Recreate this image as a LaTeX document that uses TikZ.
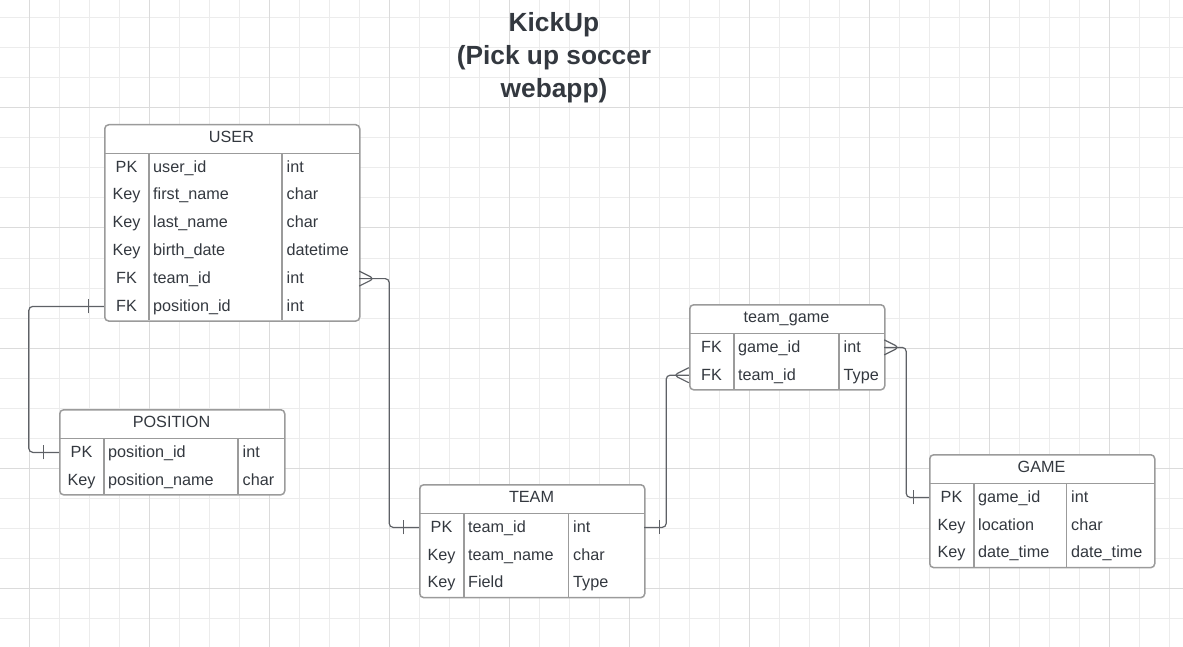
\documentclass[tikz,border=0pt]{standalone}
\usepackage{fontspec}
\setmainfont{Liberation Sans}
\usetikzlibrary{positioning, calc}

\definecolor{inkgray}{HTML}{33383F}
\definecolor{linegray}{HTML}{9B9B9B}
\definecolor{conngray}{HTML}{5E6166}
\definecolor{gridminor}{HTML}{ECECEC}
\definecolor{gridmajor}{HTML}{DBDBDB}

% one entity table: name, left, top, right, first column, second column, title, rows
\newcommand{\ertable}[8]{%
  \foreach \k/\f/\t [count=\i] in {#8} {\xdef\nrows{\i}}%
  \pgfmathsetmacro{\tabh}{29.5+\nrows*27.8}%
  \node[tablebox, anchor=north west, minimum width={(#4-#2)*1pt}, minimum height={\tabh*1pt}] (#1) at (#2,#3) {};
  \node[headtext] (#1-title) at ({(#2+#4)/2},{#3+14.5}) {#7};
  \draw[tableline] (#2,#3+29.5) -- (#4,#3+29.5);
  \draw[tableline] (#5,#3+29.5) -- (#5,#3+\tabh);
  \draw[tableline] (#6,#3+29.5) -- (#6,#3+\tabh);
  \foreach \k/\f/\t [count=\i] in {#8} {
    \pgfmathsetmacro{\rowy}{#3+29.5+(\i-0.5)*27.8}
    \node[rowcell, minimum width={(#4-#2)*1pt}] (#1-\i) at ({(#2+#4)/2},\rowy) {};
    \node[celltext] (#1-\i-key) at ({(#2+#5)/2},\rowy) {\k};
    \node[celltext, anchor=west] (#1-\i-field) at (#5+4,\rowy) {\f};
    \node[celltext, anchor=west] (#1-\i-type) at (#6+4.5,\rowy) {\t};
  }%
}

\begin{document}
\begin{tikzpicture}[
        x=1pt, y=-1pt,
        font=\fontsize{16.2}{19}\selectfont,
        tablebox/.style={draw=linegray, line width=1.5pt, rounded corners=4pt, fill=white, inner sep=0pt},
        tableline/.style={draw=linegray, line width=1.5pt},
        rowcell/.style={inner sep=0pt, minimum height=27.8pt},
        headtext/.style={inner sep=0pt, text=inkgray, text height=11.6pt, text depth=0pt, yshift=1.5pt},
        celltext/.style={inner sep=0pt, text=inkgray, text height=11.6pt, text depth=0pt, yshift=1pt},
        titletext/.style={align=center, inner sep=0pt, text=inkgray, font=\bfseries\fontsize{26.3}{33}\selectfont},
        conn/.style={draw=conngray, line width=1.2pt, rounded corners=4pt},
        many/.pic={\draw[conn] (0,-7.5) -- (15,0) -- (0,7.5);},
        one/.pic={\draw[conn] (15,-7) -- (15,7);}
    ]

    \useasboundingbox (0,0) rectangle (1183,647);

    % Grid
    \foreach \gx in {29,59,...,1183} \draw[gridminor, line width=1pt] (\gx,0) -- (\gx,647);
    \foreach \gy in {18,48,...,647} \draw[gridminor, line width=1pt] (0,\gy) -- (1183,\gy);
    \foreach \gx in {29,149,...,1183} \draw[gridmajor, line width=1pt] (\gx,0) -- (\gx,647);
    \foreach \gy in {108,228,...,647} \draw[gridmajor, line width=1pt] (0,\gy) -- (1183,\gy);

    % Title (base anchor sits on the last line)
    \node[titletext, anchor=base] (title) at (554,97.5) {KickUp\\(Pick up soccer\\webapp)};

    % Tables
    \ertable{user}{104}{124}{359}{149}{282}{USER}{PK/user\_id/int, Key/first\_name/char, Key/last\_name/char, Key/birth\_date/datetime, FK/team\_id/int, FK/position\_id/int}
    \ertable{position}{59}{409}{284}{104}{238}{POSITION}{PK/position\_id/int, Key/position\_name/char}
    \ertable{team}{419}{484}{644}{464}{568.5}{TEAM}{PK/team\_id/int, Key/team\_name/char, Key/Field/Type}
    \ertable{teamgame}{689}{304}{884}{734}{839}{team\_game}{FK/game\_id/int, FK/team\_id/Type}
    \ertable{game}{929}{454}{1154}{974}{1066.5}{GAME}{PK/game\_id/int, Key/location/char, Key/date\_time/date\_time}

    % Relations
    \draw[conn] (user-5.east) -- ++(30,0) |- (team-1.west);
    \pic at (user-5.east) {many};
    \pic[rotate=180] at (team-1.west) {one};

    \draw[conn] (user-6.west) -- ++(-75,0) |- (position-1.west);
    \pic[rotate=180] at (user-6.west) {one};
    \pic[rotate=180] at (position-1.west) {one};

    \draw[conn] (team-1.east) -- ++(22,0) |- (teamgame-2.west);
    \pic at (team-1.east) {one};
    \pic[rotate=180] at (teamgame-2.west) {many};

    \draw[conn] (teamgame-1.east) -- ++(22,0) |- (game-1.west);
    \pic at (teamgame-1.east) {many};
    \pic[rotate=180] at (game-1.west) {one};

\end{tikzpicture}
\end{document}
